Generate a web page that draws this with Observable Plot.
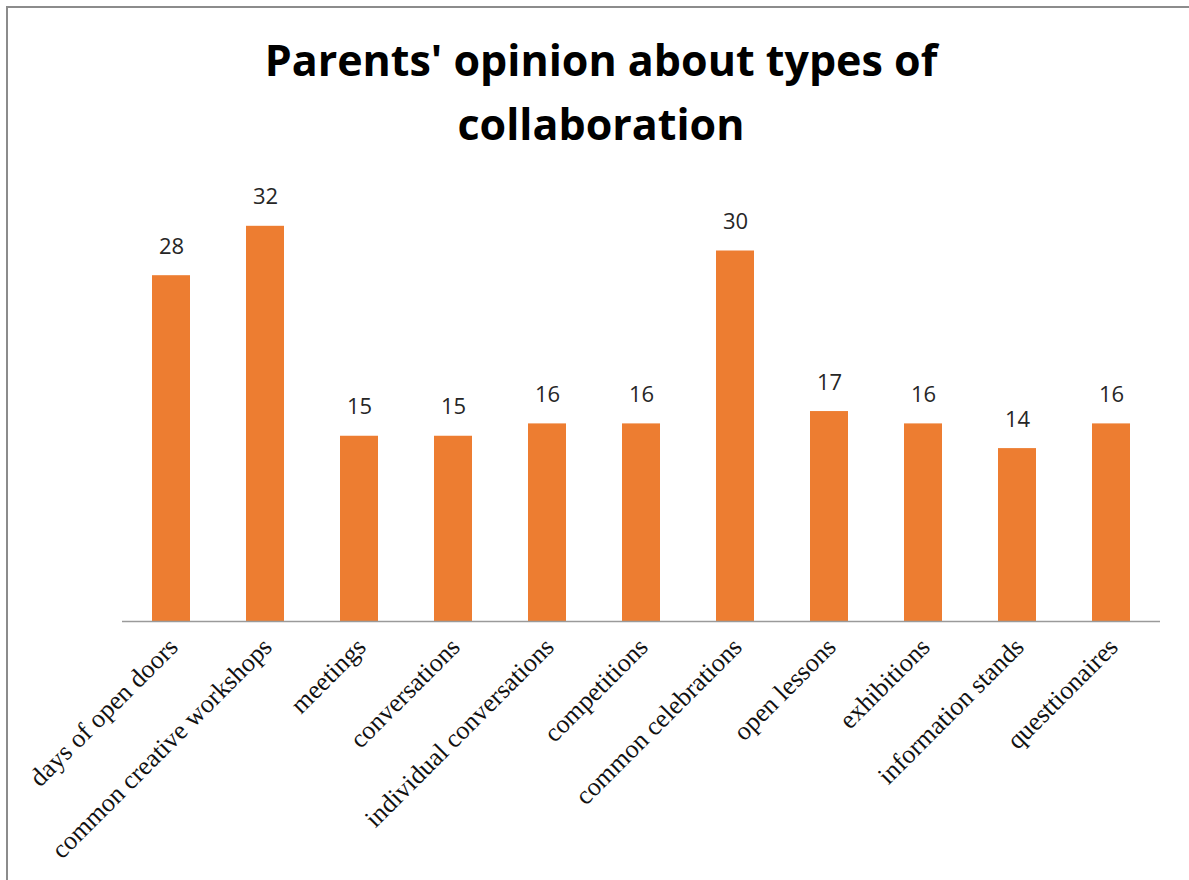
<!DOCTYPE html>
<html>
<head>
<meta charset="utf-8">
<script src="https://cdn.jsdelivr.net/npm/d3@7"></script>
<script src="https://cdn.jsdelivr.net/npm/@observablehq/plot@0.6"></script>
<style>
  html, body { margin: 0; padding: 0; background: #fff; }
  #wrap { position: relative; width: 1189px; height: 880px; overflow: hidden; }
  #frame { position: absolute; left: 6px; top: 6px; width: 1300px; height: 1000px;
           border-left: 2px solid #8c8c8c; border-top: 2px solid #8c8c8c; }
  #title { position: absolute; left: 0; width: 1202px; top: 28px; text-align: center;
           font-family: "Open Sans", Lato, sans-serif; font-weight: 700; font-size: 43px;
           line-height: 64px; color: #000; }
  #chart { position: absolute; left: 0; top: 0; }
</style>
</head>
<body>
<div id="wrap">
  <div id="frame"></div>
  <div id="chart"></div>
  <div id="title">Parents' opinion about types of<br>collaboration</div>
</div>
<script>
const categories = [
  "days of open doors",
  "common creative workshops",
  "meetings",
  "conversations",
  "individual conversations",
  "competitions",
  "common celebrations",
  "open lessons",
  "exhibitions",
  "information stands",
  "questtionaires"
];
const values = [28, 32, 15, 15, 16, 16, 30, 17, 16, 14, 16];

const data = categories.map((c, i) => ({category: c, value: values[i]}));

const chart = Plot.plot({
  width: 1189,
  height: 880,
  marginLeft: 122,
  marginRight: 29,
  marginTop: 127,
  marginBottom: 259,
  x: {domain: categories, paddingInner: 0.6, paddingOuter: 0.3, axis: null},
  y: {domain: [0, 40], axis: null},
  marks: [
    Plot.barY(data, {x: "category", y: "value", fill: "#ED7D31"}),
    Plot.ruleY([0], {stroke: "#9a9a9a", strokeWidth: 1.5}),
    Plot.text(data, {x: "category", y: "value", text: d => String(d.value), dy: -29,
      fontFamily: "'Open Sans', Lato, sans-serif", fontSize: 22, fill: "#262626"}),
    Plot.text(data, {x: "category", frameAnchor: "bottom", text: "category",
      rotate: -45, textAnchor: "end", dx: 8, dy: 27,
      fontFamily: "'Liberation Serif', 'Times New Roman', serif", fontSize: 26, fill: "#111"})
  ]
});
document.getElementById("chart").appendChild(chart);
</script>
</body>
</html>
